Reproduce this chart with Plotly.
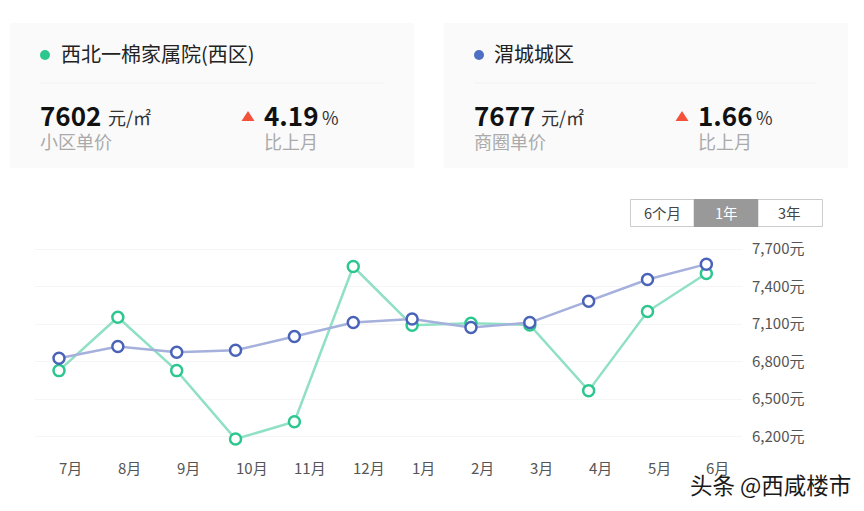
import plotly.graph_objs as go

months = ['7月', '8月', '9月', '10月', '11月', '12月', '1月', '2月', '3月', '4月', '5月', '6月']
xiaoqu = [6728, 7155, 6728, 6181, 6320, 7560, 7091, 7107, 7093, 6568, 7200, 7504]
shangquan = [6827, 6920, 6875, 6891, 7000, 7112, 7141, 7072, 7112, 7283, 7456, 7579]
y_ticks = [6200, 6500, 6800, 7100, 7400, 7700]
y_labels = ['6,200元', '6,500元', '6,800元', '7,100元', '7,400元', '7,700元']

W, H = 864, 511
L, R, T, B = 35, 742, 240, 450
CJK = 'Noto Sans CJK SC'
GREEN, GREEN_LINE = '#2cc78f', '#8fe0c5'
BLUE, BLUE_LINE = '#4a63b8', '#a5b0dc'


# page pixels to paper coordinates of the plot area
def px(x):
    return (x - L) / (R - L)


def py(y):
    return (B - y) / (B - T)


def rect(x0, y0, x1, y1, fill, line=None):
    return dict(type='rect', xref='paper', yref='paper', x0=px(x0), x1=px(x1), y0=py(y0), y1=py(y1),
                fillcolor=fill, line=dict(color=line or fill, width=1 if line else 0), layer='below')


def text(x, y, s, size, color='#222', anchor='left', bold=False, **kw):
    # annotations carry a small inner padding, taken off here for left aligned text
    shift = -2.5 if anchor == 'left' else 0
    return dict(xref='paper', yref='paper', x=px(x), y=py(y), text='<b>%s</b>' % s if bold else s,
                showarrow=False, xanchor=anchor, yanchor='middle', xshift=shift,
                font=dict(family=CJK, size=size, color=color, **kw))


def triangle(cx, cy):
    p = 'M %f %f L %f %f L %f %f Z' % (px(cx - 6.5), py(cy + 5), px(cx + 6.5), py(cy + 5), px(cx), py(cy - 5))
    return dict(type='path', xref='paper', yref='paper', path=p, fillcolor='#f4513a', line=dict(width=0))


def dot(cx, cy, color):
    return dict(type='circle', xref='paper', yref='paper', x0=px(cx - 5), x1=px(cx + 5), y0=py(cy + 5), y1=py(cy - 5),
                fillcolor=color, line=dict(width=0))


shapes = [
    rect(10, 23, 414, 168, '#fafafa'),
    rect(444, 23, 848, 168, '#fafafa'),
    rect(40, 82.5, 384, 83.5, '#f2f2f2'),
    rect(474, 82.5, 816, 83.5, '#f2f2f2'),
    dot(45, 55, GREEN),
    dot(479, 55, '#4f6fc4'),
    triangle(248, 116),
    triangle(682, 116),
    rect(630.5, 199.5, 694, 226.5, '#ffffff', '#cccccc'),
    rect(758, 199.5, 822.5, 226.5, '#ffffff', '#cccccc'),
    rect(694, 199, 758, 227, '#999999'),
]

annotations = [
    text(61, 53, '西北一棉家属院(西区)', 20),
    text(494, 53, '渭城城区', 20),
    text(40, 115, '7602', 26, '#111', bold=True),
    text(108, 117, '元/㎡', 18, '#333'),
    text(40, 141, '小区单价', 18, '#aaaaaa'),
    text(264, 115, '4.19', 26, '#111', bold=True),
    text(322, 117, '%', 18, '#333'),
    text(264, 141, '比上月', 18, '#aaaaaa'),
    text(474, 115, '7677', 26, '#111', bold=True),
    text(541, 117, '元/㎡', 18, '#333'),
    text(474, 141, '商圈单价', 18, '#aaaaaa'),
    text(698, 115, '1.66', 26, '#111', bold=True),
    text(756, 117, '%', 18, '#333'),
    text(698, 141, '比上月', 18, '#aaaaaa'),
    text(662, 212.5, '6个月', 14.5, '#444', anchor='center'),
    text(726, 212.5, '1年', 14.5, '#ffffff', anchor='center'),
    text(790, 212.5, '3年', 14.5, '#444', anchor='center'),
    text(690, 484, '头条 @西咸楼市', 22.5, '#1a1a1a', shadow='1px 1px 1px #fff'),
]

# month labels start at the point, they are not centred under it
for i, m in enumerate(months):
    annotations.append(dict(xref='x', yref='paper', x=i, y=py(467), text=m, showarrow=False, xanchor='left',
                            yanchor='middle', xshift=-2, font=dict(family=CJK, size=15, color='#555')))

trace1 = go.Scatter(x=list(range(12)), y=xiaoqu, mode='lines+markers', cliponaxis=False,
                    line=dict(color=GREEN_LINE, width=2.5),
                    marker=dict(size=11, color='#ffffff', line=dict(color=GREEN, width=2.5)))
trace2 = go.Scatter(x=list(range(12)), y=shangquan, mode='lines+markers', cliponaxis=False,
                    line=dict(color=BLUE_LINE, width=2.5),
                    marker=dict(size=11, color='#ffffff', line=dict(color=BLUE, width=2.5)))

layout = go.Layout(width=W, height=H, showlegend=False, paper_bgcolor='#ffffff', plot_bgcolor='#ffffff',
                   margin=dict(l=L, r=W - R, t=T, b=H - B),
                   xaxis=dict(range=[(L - 59) / 58.85, (R - 59) / 58.85], showgrid=False, zeroline=False,
                              showticklabels=False, ticks=''),
                   yaxis=dict(side='right', range=[6200 - 13.3 * 8, 7700 + 9 * 8], tickvals=y_ticks,
                              ticktext=y_labels, gridcolor='#f5f5f5', gridwidth=1, zeroline=False,
                              ticks='', ticklabelstandoff=9,
                              tickfont=dict(family=CJK, size=15, color='#555')),
                   shapes=shapes, annotations=annotations)

fig = go.Figure(data=[trace1, trace2], layout=layout)
fig.write_html("out.html", config={'displayModeBar': False}, post_script="document.body.style.margin='0';")
